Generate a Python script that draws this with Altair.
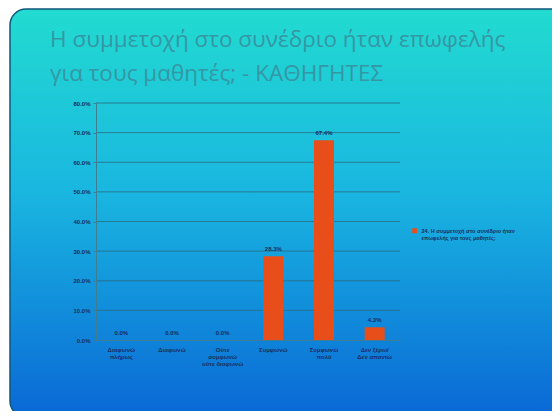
import altair as alt
import pandas as pd

categories = ["Διαφωνώ πλήρως", "Διαφωνώ", "Ούτε συμφωνώ ούτε διαφωνώ",
              "Συμφωνώ", "Συμφωνώ πολύ", "Δεν ξέρω/Δεν απαντώ"]
values = [0.0, 0.0, 0.0, 0.283, 0.674, 0.043]
series_name = "24. Η συμμετοχή στο συνέδριο ήταν επωφελής για τους μαθητές;"
title_lines = ["Η συμμετοχή στο συνέδριο ήταν επωφελής",
               "για τους μαθητές; - ΚΑΘΗΓΗΤΕΣ"]
y_ticks = [0.0, 0.1, 0.2, 0.3, 0.4, 0.5, 0.6, 0.7, 0.8]

df = pd.DataFrame({"cat": categories, "val": values, "series": [series_name] * len(categories)})
grid_df = pd.DataFrame({"val": y_ticks[1:]})

W, H = 304, 237
PL, PT = 88, 95
TW, TH = 544, 403

grad = alt.Gradient(
    gradient="linear",
    stops=[alt.GradientStop(color="#22dbd0", offset=0),
           alt.GradientStop(color="#19b6e0", offset=0.45),
           alt.GradientStop(color="#0a68d6", offset=1)],
    x1=0, x2=0, y1=0, y2=1)

one = pd.DataFrame({"a": [0]})

bg = alt.Chart(one).mark_rect(color=grad, cornerRadius=16, stroke="#0f587a", strokeWidth=1.5).encode(
    x=alt.value(-PL + 2), x2=alt.value(TW - PL + 20),
    y=alt.value(-PT + 1), y2=alt.value(TH - PT + 6))

title = alt.Chart(one).mark_text(
    text=title_lines, align="left", baseline="alphabetic", fontSize=22.5,
    lineHeight=34, font="Open Sans", color="#3597a4").encode(
    x=alt.value(-46), y=alt.value(-56))

yscale = alt.Scale(domain=[0, 0.8])
y_axis = alt.Axis(values=y_ticks, format=".1%", labelFontSize=6, labelColor="#1b2d5e",
                  labelFontWeight="bold",
                  domainColor="#3f7d90", tickColor="#3f7d90", tickSize=3, grid=False,
                  labelPadding=3, labelFont="Liberation Sans", zindex=1)

grid = alt.Chart(grid_df).mark_rule(color="#2a6e86", strokeWidth=1, opacity=0.85).encode(
    y=alt.Y("val:Q", scale=yscale, axis=y_axis, title=None), x=alt.value(0), x2=alt.value(W))

label_expr = ("datum.value == 'Ούτε συμφωνώ ούτε διαφωνώ' ? ['Ούτε','συμφωνώ','ούτε διαφωνώ'] : "
              "datum.value == 'Δεν ξέρω/Δεν απαντώ' ? ['Δεν ξέρω/','Δεν απαντώ'] : "
              "datum.value == 'Διαφωνώ' || datum.value == 'Συμφωνώ' ? datum.value : split(datum.value, ' ')")

x_enc = alt.X("cat:N", sort=categories, title=None,
              scale=alt.Scale(paddingInner=0.6, paddingOuter=0.3),
              axis=alt.Axis(labelAngle=0, labelFontSize=6, labelColor="#1b2d5e", ticks=False,
                            labelFontWeight="bold",
                            domainColor="#3f7d90", labelPadding=6, labelExpr=label_expr,
                            labelLineHeight=7, labelFont="Liberation Sans", zindex=1))
y_enc = alt.Y("val:Q", title=None, scale=yscale, axis=y_axis)

bars = alt.Chart(df).mark_bar(size=20).encode(
    x=x_enc, y=y_enc,
    color=alt.Color("series:N", scale=alt.Scale(range=["#e84e1a"]), title=None,
                    legend=alt.Legend(orient="none", legendX=316, legendY=125, zindex=1,
                                      symbolType="square", symbolSize=25, symbolStrokeWidth=0,
                                      labelFontSize=5.5, labelColor="#1b2d5e", labelLimit=200,
                                      labelFont="Liberation Sans", labelFontWeight="bold",
                                      labelExpr="['24. Η συμμετοχή στο συνέδριο ήταν', 'επωφελής για τους μαθητές;']")))

labels = alt.Chart(df).mark_text(baseline="bottom", dy=-4, fontSize=6, color="#1b2d5e",
                                 font="Liberation Sans", fontWeight="bold").encode(
    x=alt.X("cat:N", sort=categories),
    y=alt.Y("val:Q", scale=yscale, axis=y_axis),
    text=alt.Text("val:Q", format=".1%"))

chart = alt.layer(bg, title, grid, bars, labels).properties(
    width=W, height=H, autosize="none",
    padding={"left": PL, "top": PT, "right": TW - PL - W, "bottom": TH - PT - H},
).configure_view(stroke=None)

chart.save("out.html", embed_options={"renderer": "svg", "actions": False})
